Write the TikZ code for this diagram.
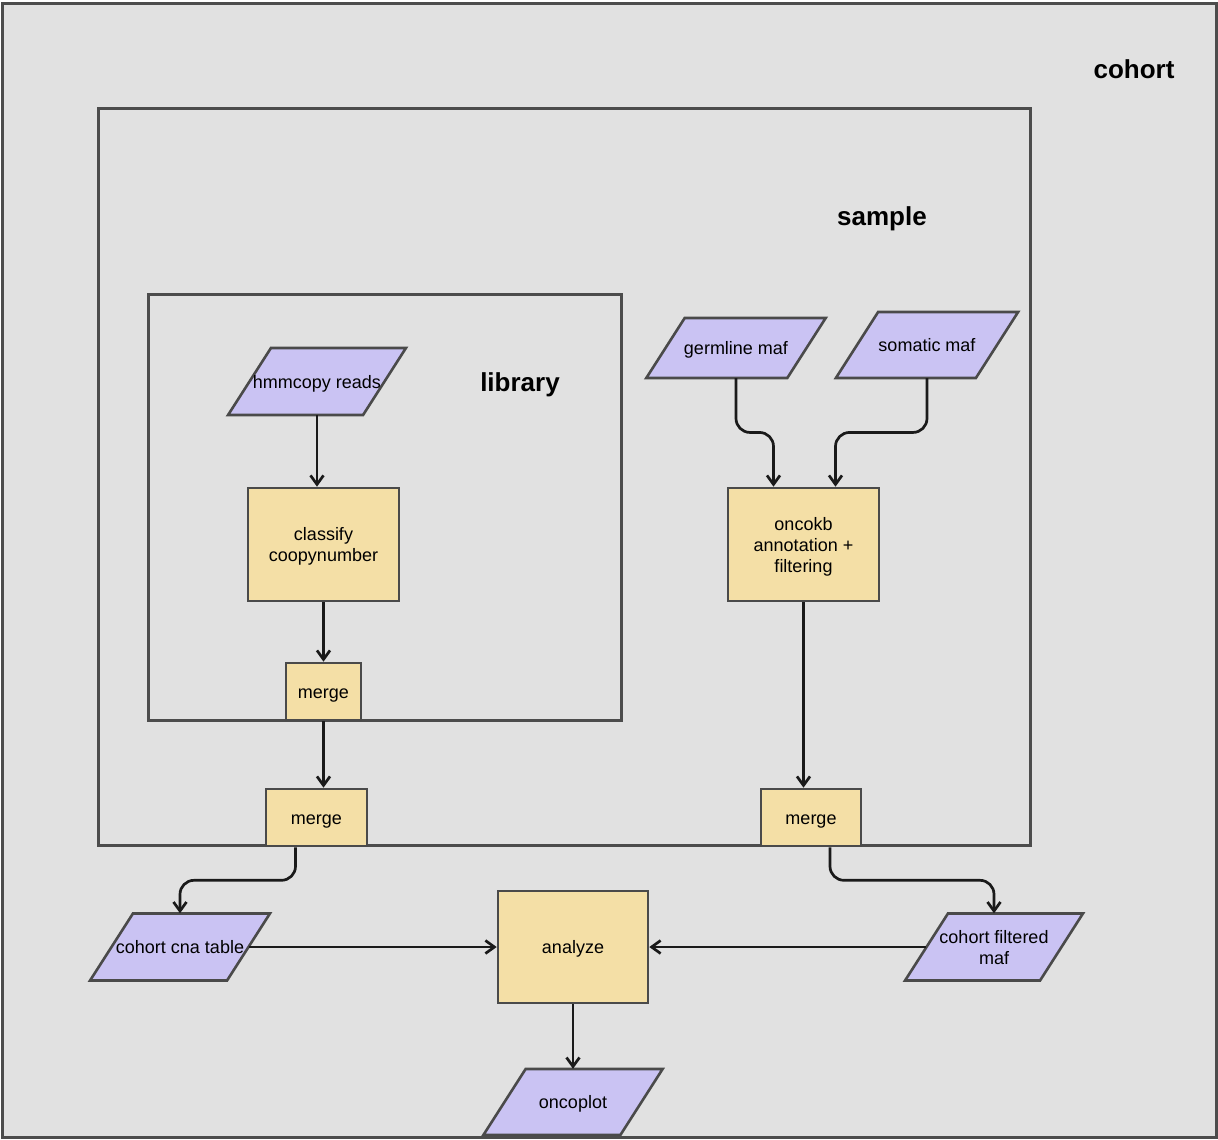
\documentclass[tikz,border=0pt]{standalone}
\usepackage{fontspec}
\setmainfont{Liberation Sans}
\usetikzlibrary{arrows.meta,calc}
\definecolor{canvas}{HTML}{E1E1E1}
\definecolor{frame}{HTML}{4C4C4C}
\definecolor{lav}{HTML}{CAC3F3}
\definecolor{tanfill}{HTML}{F4DFA6}
\definecolor{edge}{HTML}{4A4A4A}
\definecolor{ink}{HTML}{1A1A1A}

% data node: slanted box drawn first, named text node on top
% [#1 extra style] #2 name, #3 x, #4 y, #5 edge length, #6 height, #7 text
\newcommand\datanode[7][]{%
  \pgfmathsetmacro\dnhw{#5/2}%
  \pgfmathsetmacro\dnhh{#6/2}%
  \pgfmathsetmacro\dnhs{0.32*#6}%
  \filldraw[databox] (#3-\dnhw-\dnhs, #4+\dnhh) -- (#3+\dnhw-\dnhs, #4+\dnhh)
    -- (#3+\dnhw+\dnhs, #4-\dnhh) -- (#3-\dnhw+\dnhs, #4-\dnhh) -- cycle;
  \node[datatext, #1, minimum width=#5pt, minimum height=#6pt] (#2) at (#3,#4) {#7};}
\newcommand\twolines[2]{\begin{tabular}[b]{@{}c@{}}#1\\#2\end{tabular}}
\newcommand\threelines[3]{\begin{tabular}[b]{@{}c@{}}#1\\#2\\#3\end{tabular}}

\begin{document}
\begin{tikzpicture}[x=1pt,y=-1pt,
  every node/.style={font=\fontsize{18}{21}\selectfont},
  group/.style={draw=frame, line width=3pt},
  grouplabel/.style={font=\fontsize{26}{30}\selectfont\bfseries},
  oneline/.style={text height=17.8pt, text depth=4pt},
  twoline/.style={text height=38.9pt, text depth=4pt},
  threeline/.style={text height=59.9pt, text depth=4pt},
  proc/.style={rectangle, draw=edge, fill=tanfill, line width=2.6pt, inner sep=0pt, oneline},
  databox/.style={draw=edge, fill=lav, line width=2.6pt, line join=miter},
  datatext/.style={rectangle, inner sep=0pt, oneline},
  flow/.style={draw=ink, line width=2.7pt, rounded corners=14pt,
    -{Straight Barb[length=9pt,width=13pt]}}]
\useasboundingbox (0,0) rectangle (1218,1140);
\fill[white] (0,0) rectangle (1218,1140);

% nested groups: cohort > sample > library
\draw[group, fill=canvas] (2,4) rectangle (1216,1137);
\draw[group] (98,108) rectangle (1030,845);
\draw[group] (148,294) rectangle (621,720);

\node[grouplabel] (cohortlbl) at (1134,69) {cohort};
\node[grouplabel] (samplelbl) at (882,219) {sample};
\node[grouplabel] (librarylbl) at (520,385) {library};

% library level
\datanode{hmm}{317}{381.5}{135}{67}{hmmcopy reads}
\node[proc, twoline, minimum width=151pt, minimum height=113pt] (classify) at (323.5,544.5) {\twolines{classify}{coopynumber}};
\node[proc, minimum width=75pt, minimum height=57pt] (mlib) at (323.5,691.5) {merge};

% sample level
\node[proc, minimum width=101pt, minimum height=57pt] (msam) at (316.5,817.5) {merge};
\datanode{germ}{736}{348}{141}{60}{germline maf}
\datanode{soma}{927}{345}{140}{66}{somatic maf}
\node[proc, threeline, minimum width=151pt, minimum height=113pt] (onco) at (803.5,544.5) {\threelines{oncokb}{annotation +}{filtering}};
\node[proc, minimum width=100pt, minimum height=57pt] (mmaf) at (811,817.5) {merge};

% cohort level
\datanode{cna}{180}{947}{137}{67}{cohort cna table}
\datanode[twoline]{filt}{994}{947}{135}{67}{\twolines{cohort filtered}{maf}}
\node[proc, minimum width=150pt, minimum height=112pt] (analyze) at (573,947) {analyze};
\datanode{oncoplot}{573}{1102}{137}{66}{oncoplot}

% connectors
\coordinate (oncoinL) at ([xshift=-30pt]onco.north);
\coordinate (oncoinR) at ([xshift=32pt]onco.north);
\coordinate (msamout) at ([xshift=-21pt]msam.south);
\coordinate (mmafout) at ([xshift=19pt]mmaf.south);

\draw[flow] (hmm.south) -- (hmm.south |- classify.north);
\draw[flow] (classify.south) -- (mlib.north);
\draw[flow] (mlib.south) -- (mlib.south |- msam.north);
\draw[flow] (germ.south) -- (germ.south |- {$(germ.south)!.5!(oncoinL)$}) -| (oncoinL);
\draw[flow] (soma.south) -- (soma.south |- {$(soma.south)!.5!(oncoinR)$}) -| (oncoinR);
\draw[flow] (onco.south) -- (onco.south |- mmaf.north);
\draw[flow] (msamout) -- (msamout |- {$(msamout)!.5!(cna.north)$}) -| (cna.north);
\draw[flow] (mmafout) -- (mmafout |- {$(mmafout)!.5!(filt.north)$}) -| (filt.north);
\draw[flow] (cna.east) -- (analyze.west);
\draw[flow] (filt.west) -- (analyze.east);
\draw[flow] (analyze.south) -- (oncoplot.north);
\end{tikzpicture}
\end{document}
